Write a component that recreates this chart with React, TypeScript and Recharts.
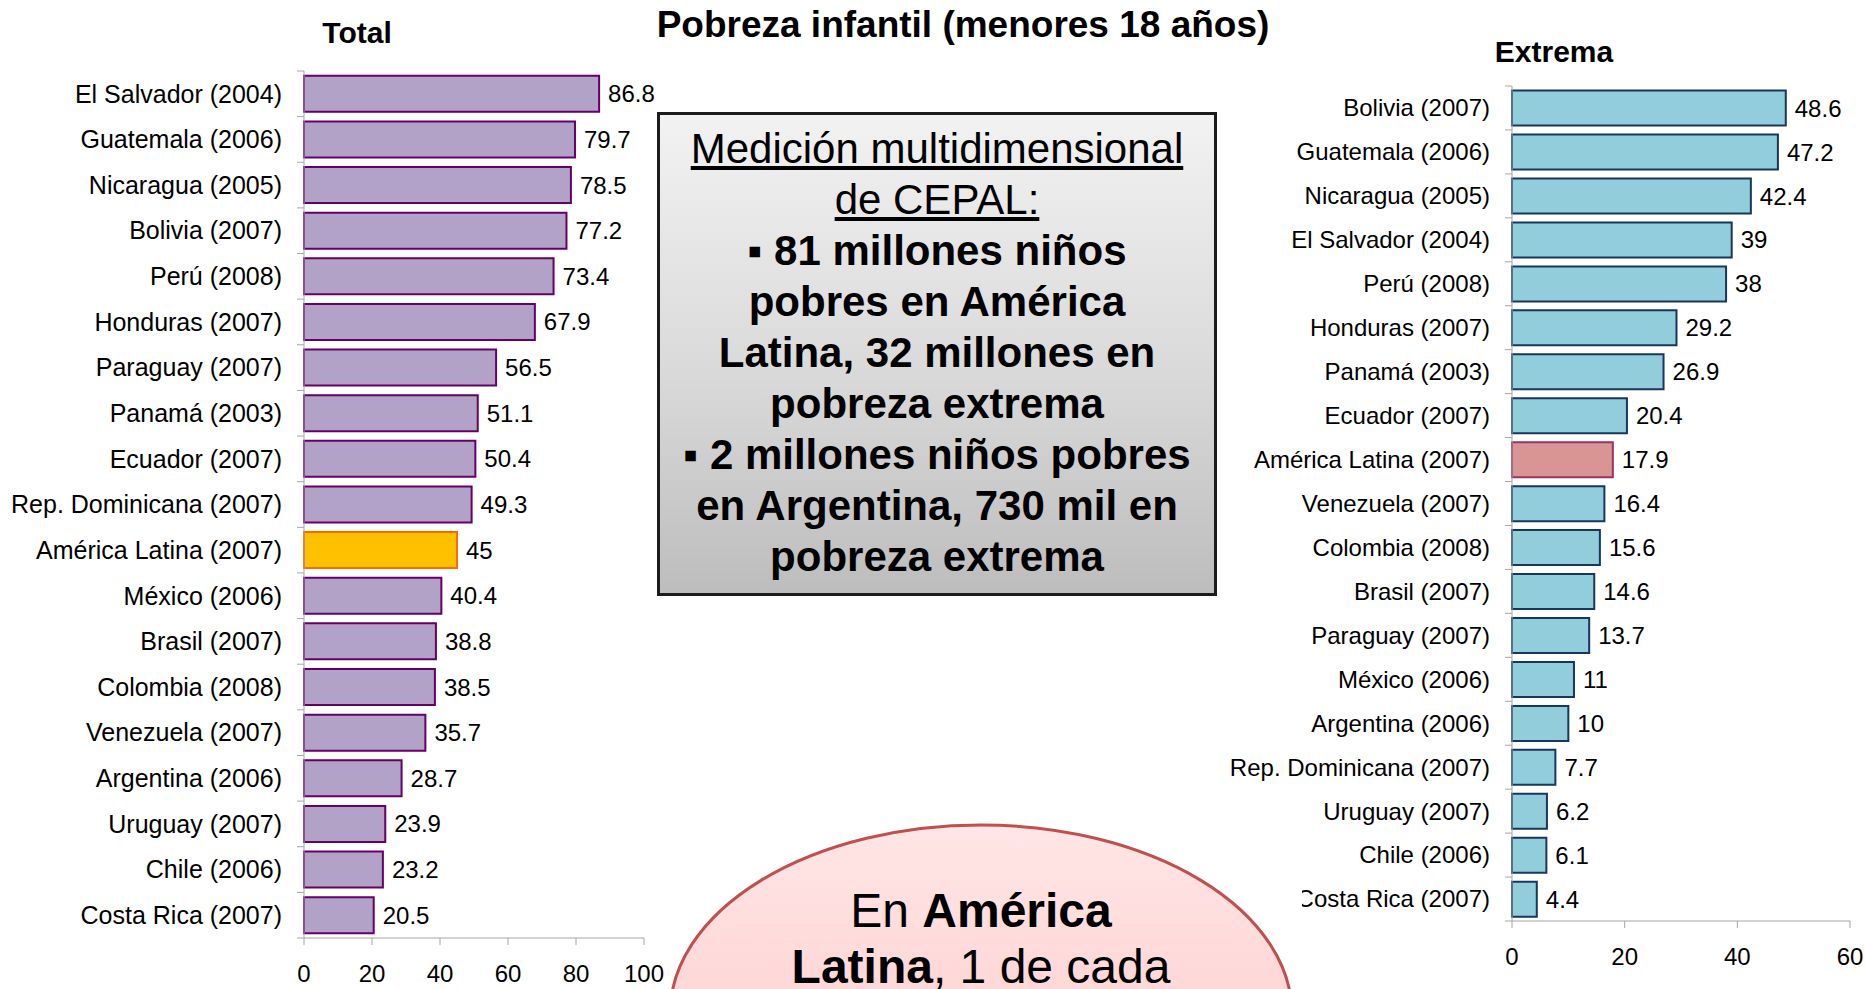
import React from 'react';
import { BarChart, Bar, XAxis, YAxis, Cell, LabelList } from 'recharts';

// ---------- DATA ----------
const totalCountries = [
  'El Salvador (2004)', 'Guatemala (2006)', 'Nicaragua (2005)', 'Bolivia (2007)', 'Perú (2008)',
  'Honduras (2007)', 'Paraguay (2007)', 'Panamá (2003)', 'Ecuador (2007)', 'Rep. Dominicana (2007)',
  'América Latina (2007)', 'México (2006)', 'Brasil (2007)', 'Colombia (2008)', 'Venezuela (2007)',
  'Argentina (2006)', 'Uruguay (2007)', 'Chile (2006)', 'Costa Rica (2007)',
];
const totalValues = [86.8, 79.7, 78.5, 77.2, 73.4, 67.9, 56.5, 51.1, 50.4, 49.3, 45, 40.4, 38.8, 38.5, 35.7, 28.7, 23.9, 23.2, 20.5];

const extremaCountries = [
  'Bolivia (2007)', 'Guatemala (2006)', 'Nicaragua (2005)', 'El Salvador (2004)', 'Perú (2008)',
  'Honduras (2007)', 'Panamá (2003)', 'Ecuador (2007)', 'América Latina (2007)', 'Venezuela (2007)',
  'Colombia (2008)', 'Brasil (2007)', 'Paraguay (2007)', 'México (2006)', 'Argentina (2006)',
  'Rep. Dominicana (2007)', 'Uruguay (2007)', 'Chile (2006)', 'Costa Rica (2007)',
];
const extremaValues = [48.6, 47.2, 42.4, 39, 38, 29.2, 26.9, 20.4, 17.9, 16.4, 15.6, 14.6, 13.7, 11, 10, 7.7, 6.2, 6.1, 4.4];

const totalTicks = [0, 20, 40, 60, 80, 100];
const extremaTicks = [0, 20, 40, 60];
const highlightName = 'América Latina (2007)';

const mainTitle = 'Pobreza infantil (menores 18 años)';
const totalTitle = 'Total';
const extremaTitle = 'Extrema';
const boxLines = [
  { text: 'Medición multidimensional', bold: false, underline: true },
  { text: 'de CEPAL:', bold: false, underline: true },
  { text: '▪ 81 millones niños', bold: true, underline: false },
  { text: 'pobres en América', bold: true, underline: false },
  { text: 'Latina, 32 millones en', bold: true, underline: false },
  { text: 'pobreza extrema', bold: true, underline: false },
  { text: '▪ 2 millones niños pobres', bold: true, underline: false },
  { text: 'en Argentina, 730 mil en', bold: true, underline: false },
  { text: 'pobreza extrema', bold: true, underline: false },
];

const totalData = totalCountries.map((name, i) => ({ name, value: totalValues[i] }));
const extremaData = extremaCountries.map((name, i) => ({ name, value: extremaValues[i] }));

// ---------- STYLE ----------
const FONT = '"Liberation Sans", Arial, sans-serif';
const AXIS = '#a6a6a6';

const makeYTick = (bandHalf: number, offset: number, fontSize: number, lastName: string) => (props: any) => {
  const { x, y, payload } = props;
  const ax = x + offset;
  return (
    <g>
      <line x1={ax - 7} x2={ax} y1={y - bandHalf} y2={y - bandHalf} stroke={AXIS} strokeWidth={1} />
      {payload.value === lastName && (
        <line x1={ax - 7} x2={ax} y1={y + bandHalf} y2={y + bandHalf} stroke={AXIS} strokeWidth={1} />
      )}
      <text x={x} y={y} dy="0.35em" textAnchor="end" fontSize={fontSize} fill="#000" fontFamily={FONT}>
        {payload.value}
      </text>
    </g>
  );
};

export default function App() {
  const leftPlotH = 989 - 71 - 51;
  const rightPlotH = 989 - 86 - 68;
  return (
    <div
      style={{
        position: 'absolute', left: 0, top: 0, width: 1865, height: 989, overflow: 'hidden',
        background: '#fff', fontFamily: FONT,
      }}
    >
      {/* Left chart: Total */}
      <div style={{ position: 'absolute', left: 0, top: 0 }}>
        <BarChart
          width={700}
          height={989}
          data={totalData}
          layout="vertical"
          margin={{ top: 71, right: 56, bottom: 0, left: 0 }}
          barCategoryGap="10.5%"
        >
          <XAxis
            type="number"
            domain={[0, 100]}
            ticks={totalTicks}
            height={51}
            tickSize={7}
            tickMargin={20}
            axisLine={{ stroke: AXIS }}
            tickLine={{ stroke: AXIS }}
            tick={{ fontSize: 24, fill: '#000', fontFamily: FONT }}
          />
          <YAxis
            type="category"
            dataKey="name"
            width={304}
            interval={0}
            tickSize={6}
            tickMargin={16}
            tickLine={false}
            axisLine={{ stroke: AXIS }}
            tick={makeYTick(leftPlotH / 19 / 2, 22, 25, totalCountries[totalCountries.length - 1])}
          />
          <Bar dataKey="value" isAnimationActive={false} strokeWidth={2}>
            {totalData.map((d) => (
              <Cell
                key={d.name}
                fill={d.name === highlightName ? '#ffc000' : '#b3a2c7'}
                stroke={d.name === highlightName ? '#ff6a00' : '#660066'}
              />
            ))}
            <LabelList dataKey="value" position="right" offset={9} fill="#000" fontSize={24} fontFamily={FONT} />
          </Bar>
        </BarChart>
      </div>

      {/* Right chart: Extrema */}
      <div style={{ position: 'absolute', left: 1100, top: 0 }}>
        <BarChart
          width={765}
          height={989}
          data={extremaData}
          layout="vertical"
          margin={{ top: 86, right: 15, bottom: 0, left: 0 }}
          barCategoryGap="10.5%"
        >
          <XAxis
            type="number"
            domain={[0, 60]}
            ticks={extremaTicks}
            height={68}
            tickSize={7}
            tickMargin={20}
            axisLine={{ stroke: AXIS }}
            tickLine={{ stroke: AXIS }}
            tick={{ fontSize: 24, fill: '#000', fontFamily: FONT }}
          />
          <YAxis
            type="category"
            dataKey="name"
            width={412}
            interval={0}
            tickSize={6}
            tickMargin={16}
            tickLine={false}
            axisLine={{ stroke: AXIS }}
            tick={makeYTick(rightPlotH / 19 / 2, 22, 24, extremaCountries[extremaCountries.length - 1])}
          />
          <Bar dataKey="value" isAnimationActive={false} strokeWidth={2}>
            {extremaData.map((d) => (
              <Cell
                key={d.name}
                fill={d.name === highlightName ? '#d99594' : '#92cddc'}
                stroke={d.name === highlightName ? '#993366' : '#17375e'}
              />
            ))}
            <LabelList dataKey="value" position="right" offset={9} fill="#000" fontSize={24} fontFamily={FONT} />
          </Bar>
        </BarChart>
      </div>

      {/* Text box */}
      <div
        style={{
          position: 'absolute', left: 657, top: 112, width: 560, height: 484, boxSizing: 'border-box',
          border: '3px solid #1c1c1c', background: 'linear-gradient(to bottom, #f2f2f2 0%, #d9d9d9 55%, #bdbdbd 100%)',
          paddingTop: 8, textAlign: 'center', fontSize: 42, lineHeight: '51px', color: '#000',
        }}
      >
        {boxLines.map((l, i) => (
          <div
            key={i}
            style={{
              whiteSpace: 'nowrap', fontWeight: l.bold ? 700 : 400,
              textDecoration: l.underline ? 'underline' : 'none',
            }}
          >
            {l.text}
          </div>
        ))}
      </div>

      {/* Overlay: titles, ellipse */}
      <svg
        width={1865}
        height={989}
        style={{ position: 'absolute', left: 0, top: 0, pointerEvents: 'none' }}
      >
        <defs>
          <linearGradient id="pinkGrad" x1="0" y1="0" x2="0" y2="1">
            <stop offset="0%" stopColor="#ffe6e6" />
            <stop offset="100%" stopColor="#ffc4c4" />
          </linearGradient>
        </defs>
        <text x={963} y={37} textAnchor="middle" fontSize={37} fontWeight={700} fontFamily={FONT} fill="#000">
          {mainTitle}
        </text>
        <text x={357} y={43} textAnchor="middle" fontSize={30} fontWeight={700} fontFamily={FONT} fill="#000">
          {totalTitle}
        </text>
        <text x={1554} y={62} textAnchor="middle" fontSize={30} fontWeight={700} fontFamily={FONT} fill="#000">
          {extremaTitle}
        </text>
        <rect x={1230} y={876} width={72} height={40} fill="#fff" />
        <ellipse cx={981} cy={1014} rx={311} ry={189} fill="url(#pinkGrad)" stroke="#c0504d" strokeWidth={3} />
        <text x={981} y={927} textAnchor="middle" fontSize={48} fontFamily={FONT} fill="#000">
          <tspan>En </tspan>
          <tspan fontWeight={700}>América</tspan>
        </text>
        <text x={981} y={983} textAnchor="middle" fontSize={48} fontFamily={FONT} fill="#000">
          <tspan fontWeight={700}>Latina</tspan>
          <tspan>, 1 de cada</tspan>
        </text>
      </svg>
    </div>
  );
}
